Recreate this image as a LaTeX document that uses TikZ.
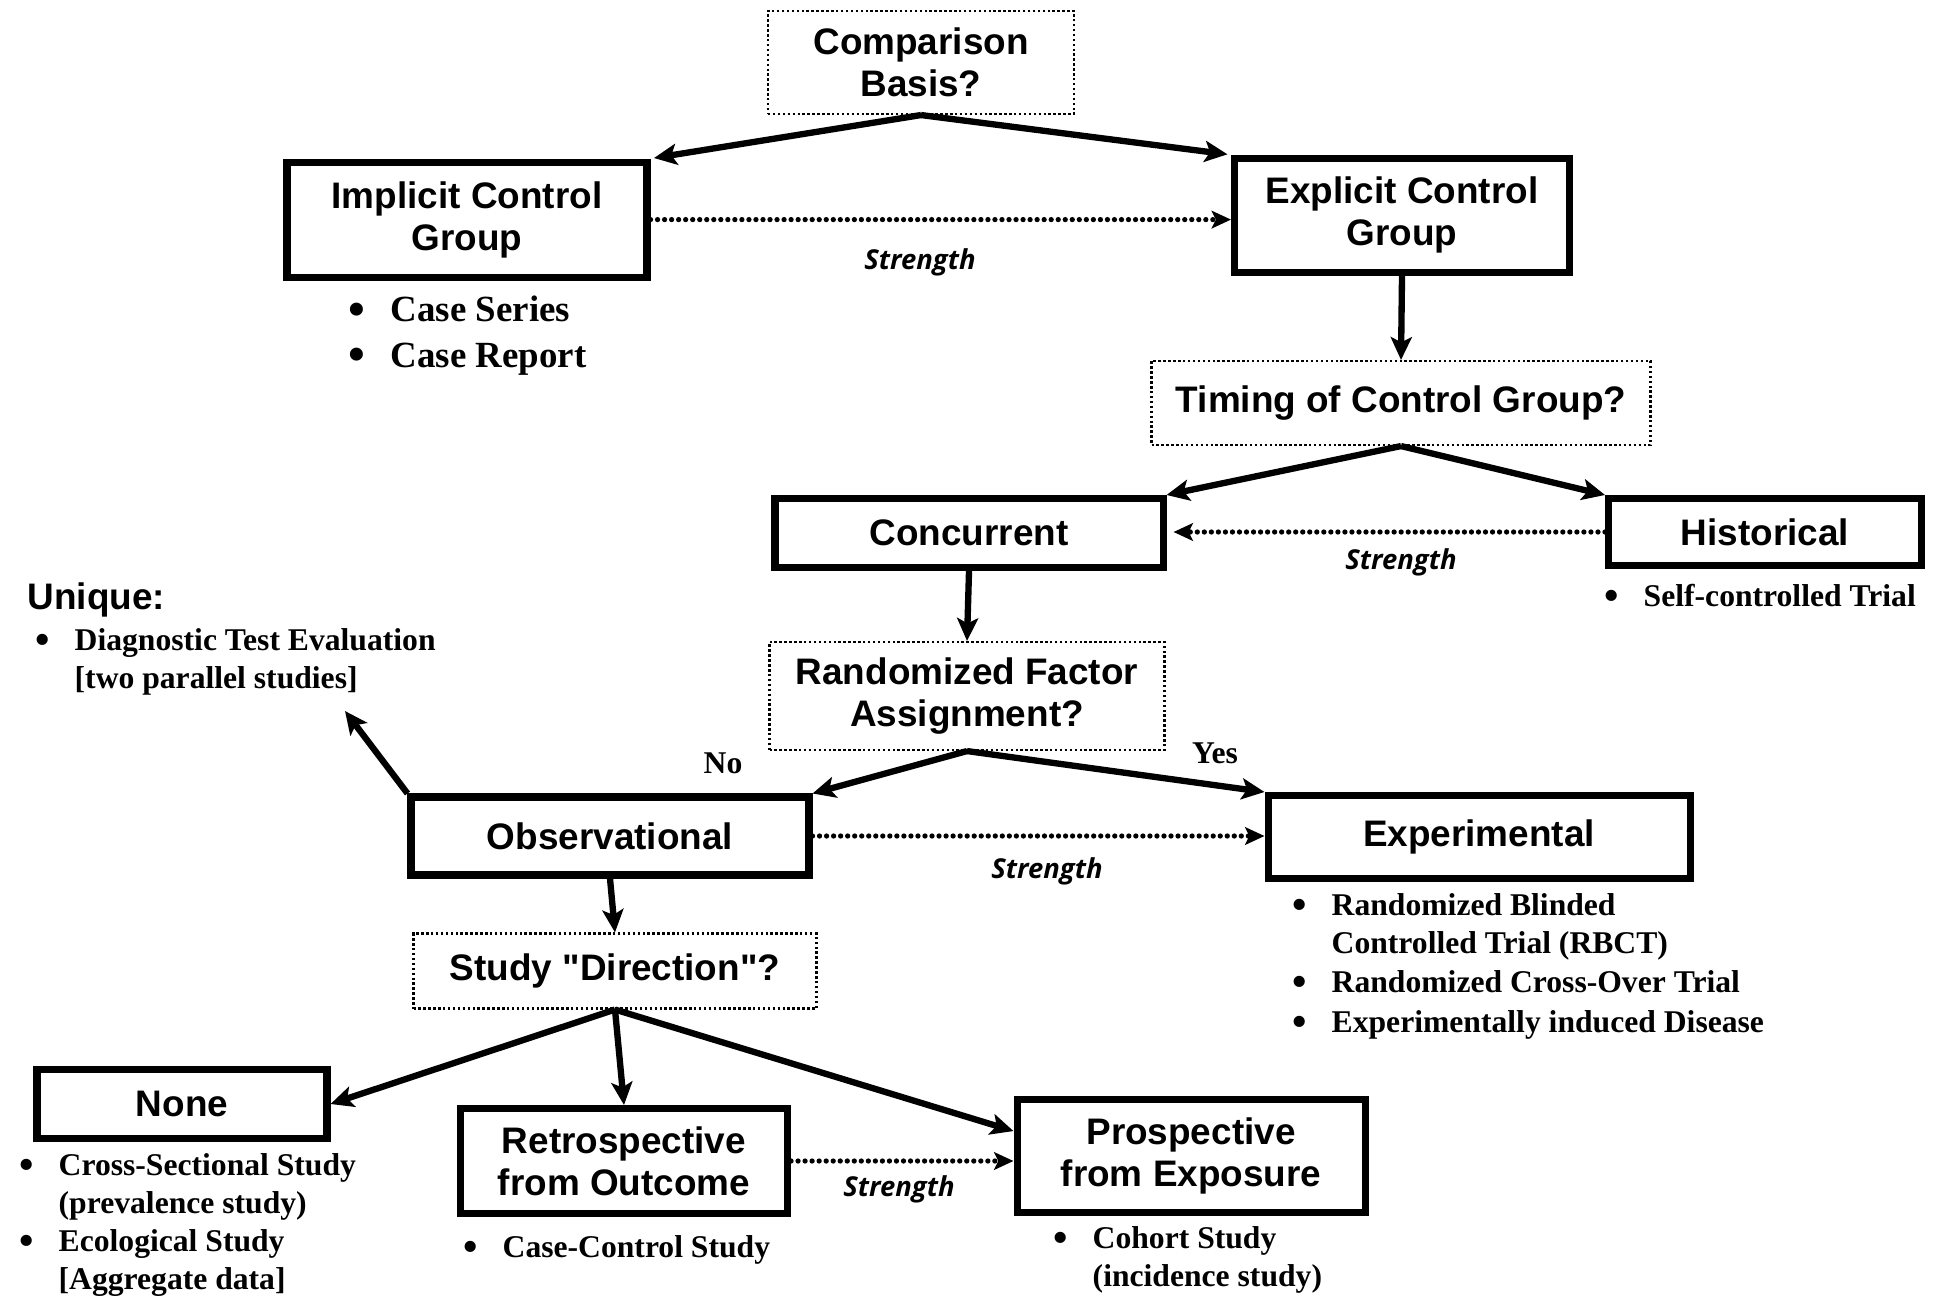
\documentclass[tikz,border=0pt]{standalone}
\usepackage{fontspec}
\setmainfont{Liberation Serif}
\setsansfont{Liberation Sans}[Ligatures=TeXOff]
\newfontfamily\strengthfont{Open Sans}
\usetikzlibrary{arrows.meta}

\tikzset{
  group/.style={draw, line width=2pt, inner sep=0pt, align=center, font=\sffamily\bfseries\fontsize{10.5}{12}\selectfont},
  question/.style={draw, line width=0.6pt, dash pattern=on 0.7pt off 0.7pt, inner sep=0pt, align=center, font=\sffamily\bfseries\fontsize{10.5}{12}\selectfont},
  flow/.style={line width=1.8pt, -{Stealth[length=6.5pt,width=6pt,inset=1.5pt]}},
  strength/.style={line width=1.5pt, dash pattern=on 0pt off 2pt, line cap=round, -{Stealth[length=5.5pt,width=5pt,inset=1.2pt]}},
  strengthlabel/.style={inner sep=0pt, font=\strengthfont\bfseries\itshape\fontsize{7.8}{9}\selectfont},
  item/.style={anchor=base west, inner sep=0pt, align=left, font=\rmfamily\bfseries\fontsize{9}{10.8}\selectfont},
  answer/.style={inner sep=0pt, font=\rmfamily\bfseries\fontsize{9}{10.8}\selectfont},
}
\newcommand{\bul}{\leavevmode\llap{\raisebox{-0.22ex}{\scalebox{1.3}{\textbullet}}\hspace{0.25cm}}}

\begin{document}
\begin{tikzpicture}
    \useasboundingbox (0,0) rectangle (19.4,-12.96);

    \node (comparison) [question, minimum width=3.06cm, minimum height=1.03cm] at (9.21,-0.625) {Comparison\\Basis?};

    \node (implicit) [group, minimum width=3.60cm, minimum height=1.15cm] at (4.67,-2.196) {Implicit Control\\Group};
    \node (caseseries) [item, font=\rmfamily\bfseries\fontsize{10.5}{13}\selectfont] at (3.90,-3.67) {\bul Case Series\\\bul Case Report};

    \node (explicit) [group, minimum width=3.35cm, minimum height=1.14cm] at (14.02,-2.153) {Explicit Control\\Group};
    \node (timing) [question, minimum width=4.99cm, minimum height=0.84cm] at (14.01,-4.03) {Timing of Control Group?};

    \node (concurrent) [group, minimum width=3.88cm, minimum height=0.69cm] at (9.69,-5.33) {Concurrent};
    \node (historical) [group, minimum width=3.13cm, minimum height=0.67cm] at (17.65,-5.32) {Historical};
    \node (selfcontrolled) [item] at (16.43,-6.06) {\bul Self-controlled Trial};

    \node (randomized) [question, minimum width=3.95cm, minimum height=1.08cm] at (9.67,-6.96) {Randomized Factor\\Assignment?};
    \node (no) [answer] at (7.23,-7.63) {No};
    \node (yes) [answer] at (12.15,-7.53) {Yes};

    \node (uniquehead) [anchor=west, inner sep=0pt, font=\sffamily\bfseries\fontsize{10.5}{12}\selectfont] at (0.27,-6.0) {Unique:};
    \node (diagnostic) [item] at (0.74,-6.88) {\bul Diagnostic Test Evaluation\\{}[two parallel studies]};
    \coordinate (uniquetip) at (3.45,-7.11);

    \node (observational) [group, minimum width=3.98cm, minimum height=0.78cm] at (6.10,-8.36) {Observational};
    \node (experimental) [group, minimum width=4.22cm, minimum height=0.83cm] at (14.79,-8.37) {Experimental};
    \node (rbct) [item] at (13.31,-9.53) {\bul Randomized Blinded\\Controlled Trial (RBCT)};
    \node (crossover) [item] at (13.31,-9.92) {\bul Randomized Cross-Over Trial};
    \node (induced) [item] at (13.31,-10.32) {\bul Experimentally induced Disease};

    \node (direction) [question, minimum width=4.03cm, minimum height=0.75cm] at (6.15,-9.71) {Study "Direction"?};

    \node (none) [group, minimum width=2.90cm, minimum height=0.69cm] at (1.82,-11.04) {None};
    \node (crosssectional) [item] at (0.58,-12.13) {\bul Cross-Sectional Study\\(prevalence study)};
    \node (ecological) [item] at (0.58,-12.89) {\bul Ecological Study\\{}[Aggregate data]};

    \node (retro) [group, minimum width=3.27cm, minimum height=1.05cm] at (6.24,-11.61) {Retrospective\\from Outcome};
    \node (casecontrol) [item] at (5.02,-12.57) {\bul Case-Control Study};

    \node (prosp) [group, minimum width=3.48cm, minimum height=1.13cm] at (11.91,-11.56) {Prospective\\from Exposure};
    \node (cohort) [item] at (10.92,-12.86) {\bul Cohort Study\\(incidence study)};

    \draw [flow, shorten >=1pt] (comparison.south) -- (implicit.north east);
    \draw [flow, shorten >=1pt] (comparison.south) -- (explicit.north west);
    \draw [strength] (implicit.east) -- (implicit.east -| explicit.west);
    \node (implicitstrength) [strengthlabel] at (9.20,-2.62) {Strength};

    \draw [flow] (explicit.south) -- (timing.north);
    \draw [flow] (timing.south) -- (concurrent.north east);
    \draw [flow] (timing.south) -- (historical.north west);
    \draw [strength, shorten >=2pt] (historical.west) -- (historical.west -| concurrent.east);
    \node (historicalstrength) [strengthlabel] at (14.01,-5.62) {Strength};

    \draw [flow] (concurrent.south) -- (randomized.north);
    \draw [flow] (randomized.south) -- (observational.north east);
    \draw [flow] (randomized.south) -- (experimental.north west);
    \draw [strength] (observational.east) -- (observational.east -| experimental.west);
    \node (observationalstrength) [strengthlabel] at (10.47,-8.71) {Strength};

    \draw [flow] (observational.north west) -- (uniquetip);
    \draw [flow] (observational.south) -- (direction.north);

    \draw [flow] (direction.south) -- (none.east);
    \draw [flow] (direction.south) -- (retro.north);
    \draw [flow] (direction.south) -- (prosp.172);
    \draw [strength] (retro.east) -- (retro.east -| prosp.west);
    \node (retrostrength) [strengthlabel] at (8.99,-11.89) {Strength};
\end{tikzpicture}
\end{document}
